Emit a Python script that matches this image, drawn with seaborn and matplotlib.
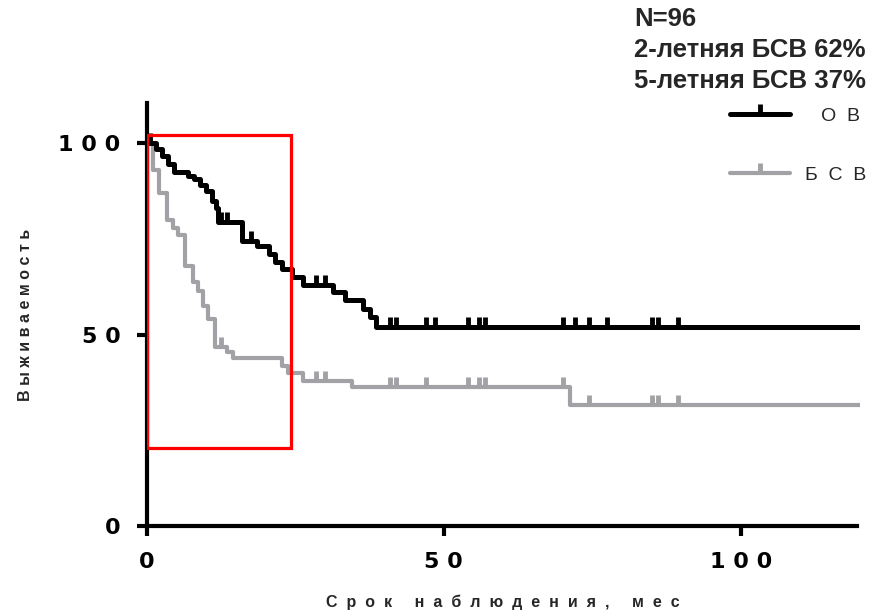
import numpy as np
import pandas as pd
import seaborn as sns
import matplotlib.pyplot as plt
from matplotlib.lines import Line2D
from matplotlib.patches import Rectangle

# Survival curves (months, %)
osTimes = [0, 1.5, 2.5, 3.5, 4.5, 7, 8, 9, 10, 11, 11.7, 12, 16, 18.5, 20.5, 21.5, 22.7, 24.5, 26.3, 31.4, 33.3, 36.4, 37.5, 38.5, 120]
osSurv = [100, 98.5, 96.5, 94.5, 92.5, 91.5, 90.5, 89, 87.5, 85, 83, 79.5, 74.5, 73, 71, 69, 67, 65, 63, 61, 59, 56.7, 54.5, 52.1, 52.1]
osCensor = [0.6, 12.5, 13.5, 17.5, 28.5, 30, 41, 42, 47, 48.5, 54, 56, 57, 70, 72, 74.5, 77.5, 85, 86, 89.5]

pfsTimes = [0, 1.0, 2.0, 3.4, 4.4, 5.3, 6.4, 7.7, 8.6, 9.4, 10.3, 11.4, 13.5, 14.5, 22.7, 23.7, 26.3, 34.5, 71.2, 120]
pfsSurv = [100, 93, 87, 80, 77.7, 75.9, 68, 63.8, 61.4, 57.5, 54, 46.7, 45.4, 44, 41.7, 40, 37.8, 36.2, 31.5, 31.5]
pfsCensor = [12.5, 28.5, 30, 41, 42, 47, 54, 56, 57, 70, 74.5, 85, 86, 89.5]

seriesLabels = ['ОВ', 'БСВ']
headerLines = ['N=96', '2-летняя БСВ 62%', '5-летняя БСВ 37%']
xTicks = [0, 50, 100]
yTicks = [0, 50, 100]
# highlighted window (months / %)
boxX0, boxX1, boxY0, boxY1 = 0, 24.3, 20.5, 102

# Styles
colOS = '#000000'
colPFS = '#a2a2a6'
sns.set_style('white')
plt.rcParams['font.family'] = ['Liberation Sans', 'DejaVu Sans']


def spaced(s, gap=' '):
    return gap.join(list(s))


def stepValue(times, surv, t):
    idx = np.searchsorted(times, t, side='right') - 1
    return np.array(surv)[idx]


dataOS = pd.DataFrame({'t': osTimes, 's': osSurv})
dataPFS = pd.DataFrame({'t': pfsTimes, 's': pfsSurv})

fig = plt.figure(figsize=(8.79, 6.15), dpi=100)
ax = fig.add_axes([0.167, 0.1447, 0.811, 0.688])

sns.lineplot(x='t', y='s', data=dataPFS, estimator=None, sort=False, drawstyle='steps-post',
             color=colPFS, lw=3, ax=ax)
sns.lineplot(x='t', y='s', data=dataOS, estimator=None, sort=False, drawstyle='steps-post',
             color=colOS, lw=3.6, ax=ax)
ax.plot(pfsCensor, stepValue(pfsTimes, pfsSurv, pfsCensor), ls='none', marker=2, ms=7, mew=3.5, color=colPFS)
ax.plot(osCensor, stepValue(osTimes, osSurv, osCensor), ls='none', marker=2, ms=7, mew=3.5, color=colOS)

ax.add_patch(Rectangle((boxX0, boxY0), boxX1 - boxX0, boxY1 - boxY0, fill=False, ec='#ff0000', lw=2.3, zorder=5))

ax.set_xlim(0, 120)
ax.set_ylim(0, 110.5)
ax.set_xticks(xTicks)
ax.set_yticks(yTicks)
ax.set_xticklabels([spaced(str(v)) for v in xTicks], fontsize=16, fontweight='bold', family='DejaVu Sans')
ax.set_yticklabels([spaced(str(v)) for v in yTicks], fontsize=16, fontweight='bold', family='DejaVu Sans')
ax.tick_params(bottom=True, left=True, direction='out', length=7, width=3, colors='black')
ax.tick_params(axis='x', pad=12)
ax.tick_params(axis='y', pad=12)
for side in ['top', 'right']:
    ax.spines[side].set_visible(False)
for side in ['left', 'bottom']:
    ax.spines[side].set_linewidth(3)
    ax.spines[side].set_color('black')
ax.spines['bottom'].set_bounds(0, 119.5)

ax.set_xlabel('     '.join(spaced(w, '  ') for w in 'Срок наблюдения, мес'.split(' ')),
              fontsize=11.5, fontweight='bold', labelpad=16)
ax.set_ylabel(spaced('Выживаемость'), fontsize=11.5, fontweight='bold', labelpad=18)

for i, line in enumerate(headerLines):
    fig.text(0.721, 1 - (19 + 31 * i) / 615, line, fontsize=18.5, fontweight='bold', va='center', ha='left')

handles = [Line2D([], [], color=colOS, lw=3.6, marker=2, ms=7, mew=3.5),
           Line2D([], [], color=colPFS, lw=3, marker=2, ms=7, mew=3.5)]
legLabels = ['   ' + spaced(seriesLabels[0], '  '), spaced(seriesLabels[1], '  ')]
fig.legend(handles, legLabels, loc='upper left', bbox_to_anchor=(0.83, 0.825),
           frameon=False, fontsize=14, handlelength=3.1, handletextpad=0.8, labelspacing=2.1,
           borderpad=0, borderaxespad=0, numpoints=1)

fig.savefig('out.png', dpi=100)
